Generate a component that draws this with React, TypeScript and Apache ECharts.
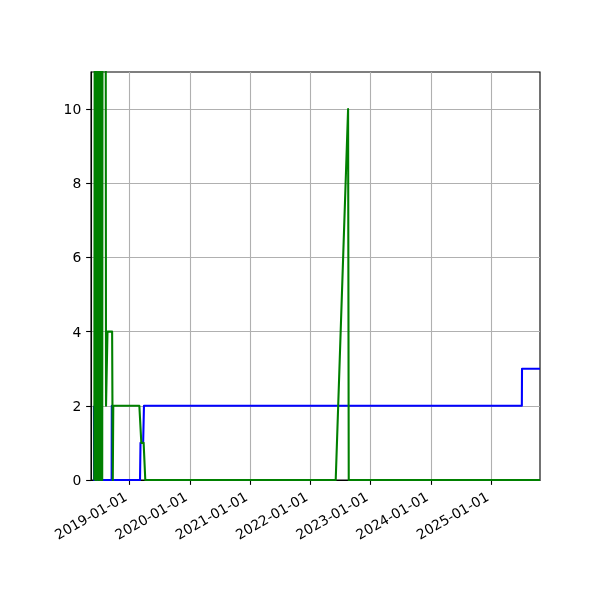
import React, { useEffect, useRef } from 'react';
import * as echarts from 'echarts';

// axis range and ticks
const xStart = '2018-05-12';
const xEnd = '2025-10-23';
const xTicks = ['2019-01-01', '2020-01-01', '2021-01-01', '2022-01-01', '2023-01-01', '2024-01-01', '2025-01-01'];
const yTicks = [0, 2, 4, 6, 8, 10];

// blue series
const blueDates = [
  '2018-05-30', '2018-05-31', '2018-09-14', '2018-09-15', '2018-09-16',
  '2019-03-05', '2019-03-08', '2019-03-24', '2019-03-29',
  '2025-07-05', '2025-07-06', '2025-10-23',
];
const blueValues = [2, 0, 0, 2, 0, 0, 1, 1, 2, 2, 3, 3];

// green series
const greenDates = [
  '2018-06-01', '2018-06-04', '2018-06-07', '2018-06-10', '2018-06-13', '2018-06-16',
  '2018-06-19', '2018-06-22', '2018-06-25', '2018-06-28', '2018-07-01', '2018-07-04',
  '2018-07-07', '2018-07-10', '2018-07-13', '2018-07-16', '2018-07-19', '2018-07-22',
  '2018-08-07', '2018-08-11', '2018-08-13', '2018-08-20', '2018-09-17', '2018-09-21',
  '2018-09-24', '2019-03-01', '2019-03-13', '2019-03-27', '2019-04-06',
  '2022-06-03', '2022-08-17', '2022-08-21', '2025-10-23',
];
const greenValues = [
  0, 16, 0, 23, 0, 14,
  1, 27, 0, 18, 0, 13,
  2, 25, 0, 17, 0, 21,
  25, 2, 2, 4, 4, 0,
  2, 2, 1, 1, 0,
  0, 10, 0, 0,
];

const font = 'DejaVu Sans';

// dates as UTC timestamps on a plain value axis
const ts = (s: string) => Date.parse(s + 'T00:00:00Z');
const pad2 = (n: number) => (n < 10 ? '0' + n : '' + n);
const fmtDate = (v: number) => {
  const d = new Date(v);
  return `${d.getUTCFullYear()}-${pad2(d.getUTCMonth() + 1)}-${pad2(d.getUTCDate())}`;
};

const App = () => {
  const chartRef = useRef<HTMLDivElement>(null);

  useEffect(() => {
    const chart = echarts.init(chartRef.current, null, { renderer: 'svg' });
    const xTickValues = xTicks.map(ts);

    chart.setOption({
      animation: false,
      grid: {
        left: 91,
        top: 72,
        width: 449,
        height: 408,
        show: true,
        borderColor: '#000',
        borderWidth: 1.1,
      },
      xAxis: {
        type: 'value',
        min: ts(xStart),
        max: ts(xEnd),
        axisLine: { show: true, onZero: false, lineStyle: { color: '#000', width: 1.1 } },
        axisTick: {
          show: true,
          length: 4.86,
          customValues: xTickValues,
          lineStyle: { color: '#000', width: 1.1 },
        },
        axisLabel: {
          customValues: xTickValues,
          rotate: 30,
          margin: 13,
          padding: [0, 4.6, 0, 0],
          fontFamily: font,
          fontSize: 13.9,
          color: '#000',
          formatter: (v: number) => fmtDate(v),
        },
        splitLine: { show: true, lineStyle: { color: '#b0b0b0', width: 1.1 } },
      },
      yAxis: {
        type: 'value',
        min: 0,
        max: 11,
        interval: 2,
        axisLine: { show: true, lineStyle: { color: '#000', width: 1.1 } },
        axisTick: {
          show: true,
          length: 4.86,
          customValues: yTicks,
          lineStyle: { color: '#000', width: 1.1 },
        },
        axisLabel: {
          customValues: yTicks,
          margin: 9.7,
          fontFamily: font,
          fontSize: 13.9,
          color: '#000',
        },
        splitLine: { show: true, lineStyle: { color: '#b0b0b0', width: 1.1 } },
      },
      series: [
        {
          type: 'line',
          data: blueDates.map((d, i) => [ts(d), blueValues[i]]),
          showSymbol: false,
          clip: true,
          lineStyle: { color: '#0000ff', width: 2.08, join: 'round' },
          z: 2,
        },
        {
          type: 'line',
          data: greenDates.map((d, i) => [ts(d), greenValues[i]]),
          showSymbol: false,
          clip: true,
          lineStyle: { color: '#008000', width: 2.08, join: 'round' },
          z: 3,
        },
      ],
    });

    return () => {
      chart.dispose();
    };
  }, []);

  return (
    <div
      ref={chartRef}
      style={{ position: 'fixed', left: 0, top: 0, width: '600px', height: '600px' }}
    />
  );
};

export default App;
